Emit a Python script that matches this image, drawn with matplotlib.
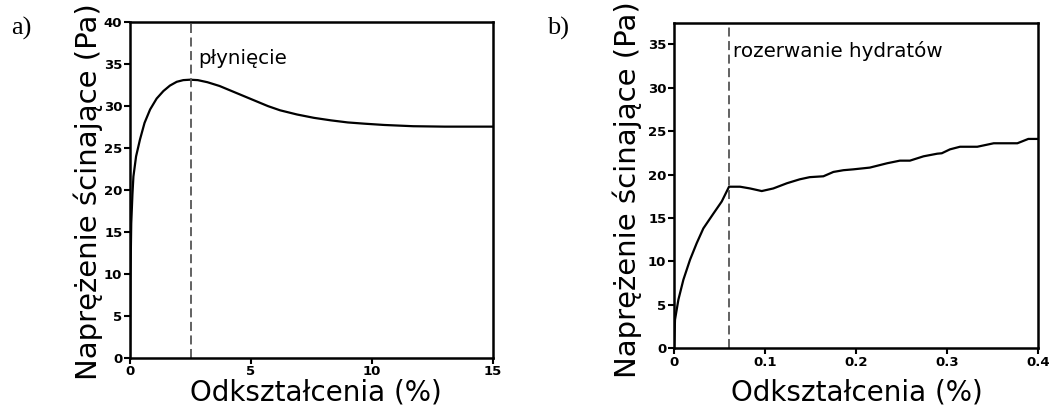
import numpy as np
import matplotlib.pyplot as plt

# panel a)
strain_a = [0, 0.02, 0.05, 0.1, 0.14, 0.25, 0.41, 0.6, 0.83, 1.1, 1.38, 1.65, 1.93,
            2.2, 2.48, 2.8, 3.2, 3.7, 4.2, 4.7, 5.2, 5.7, 6.2, 6.9, 7.6, 8.3,
            9.0, 9.7, 10.5, 11.7, 13.0, 15.0]
stress_a = [0, 10, 16, 19.5, 21.6, 24.0, 26.0, 28.0, 29.6, 30.9, 31.8, 32.45, 32.9,
            33.1, 33.15, 33.1, 32.85, 32.4, 31.8, 31.2, 30.6, 30.0, 29.5, 29.0, 28.6,
            28.3, 28.05, 27.9, 27.75, 27.6, 27.55, 27.55]
yield_a = 2.5

# panel b)
strain_b = [0, 0.0011, 0.0048, 0.0103, 0.0176, 0.0249, 0.0322, 0.0432, 0.0524, 0.0604,
            0.0725, 0.0835, 0.0963, 0.109, 0.124, 0.138, 0.149, 0.164, 0.175, 0.186,
            0.197, 0.215, 0.234, 0.248, 0.259, 0.274, 0.289, 0.294, 0.303, 0.314,
            0.333, 0.351, 0.377, 0.389, 0.4]
stress_b = [0, 3.3, 5.6, 7.9, 10.2, 12.1, 13.8, 15.5, 16.9, 18.6,
            18.6, 18.4, 18.1, 18.4, 19.0, 19.45, 19.7, 19.8, 20.3, 20.5,
            20.6, 20.8, 21.3, 21.6, 21.6, 22.1, 22.4, 22.45, 22.9, 23.2,
            23.2, 23.6, 23.6, 24.1, 24.1]
yield_b = 0.06

ylab = "Naprężenie ścinające (Pa)"
xlab = "Odkształcenia (%)"

fig = plt.figure(figsize=(10.52, 4.07), dpi=100)

def style(ax):
    for s in ax.spines.values():
        s.set_linewidth(1.8)
    ax.tick_params(direction='out', length=4, width=1.5, pad=1.5, labelsize=9.5)
    for lab in ax.get_xticklabels() + ax.get_yticklabels():
        lab.set_fontweight('bold')

ax1 = fig.add_axes([0.1236, 0.1216, 0.345, 0.8236])
ax1.plot(strain_a, stress_a, color='black', lw=1.6)
ax1.axvline(yield_a, color='#555555', lw=1.3, ls=(0, (5, 2.5)))
ax1.set_xlim(0, 15)
ax1.set_ylim(0, 40)
ax1.set_xticks([0, 5, 10, 15])
ax1.set_yticks(np.arange(0, 41, 5))
ax1.text(2.8, 35.0, "płynięcie", fontsize=14.3, va='baseline', ha='left')
style(ax1)

ax2 = fig.add_axes([0.6407, 0.1442, 0.3463, 0.8005])
ax2.plot(strain_b, stress_b, color='black', lw=1.6)
ax2.axvline(yield_b, color='#555555', lw=1.3, ls=(0, (5, 2.5)))
ax2.set_xlim(0, 0.4)
ax2.set_ylim(0, 37.5)
ax2.set_xticks([0, 0.1, 0.2, 0.3, 0.4])
ax2.set_xticklabels(['0', '0.1', '0.2', '0.3', '0.4'])
ax2.set_yticks(np.arange(0, 36, 5))
ax2.text(0.065, 33.5, "rozerwanie hydratów", fontsize=14.3, va='baseline', ha='left')
style(ax2)

# axis titles
fig.text(0.0836, 0.066, ylab, rotation=90, fontsize=21, ha='center', va='bottom')
fig.text(0.5966, 0.071, ylab, rotation=90, fontsize=21, ha='center', va='bottom')
fig.text(0.3004, 0.016, xlab, fontsize=20, ha='center', va='baseline')
fig.text(0.8146, 0.016, xlab, fontsize=20, ha='center', va='baseline')

fig.text(0.011, 0.914, "a)", fontsize=19, family='Liberation Serif', va='baseline')
fig.text(0.52, 0.914, "b)", fontsize=19, family='Liberation Serif', va='baseline')

fig.savefig("out.png", dpi=100, facecolor='white')
